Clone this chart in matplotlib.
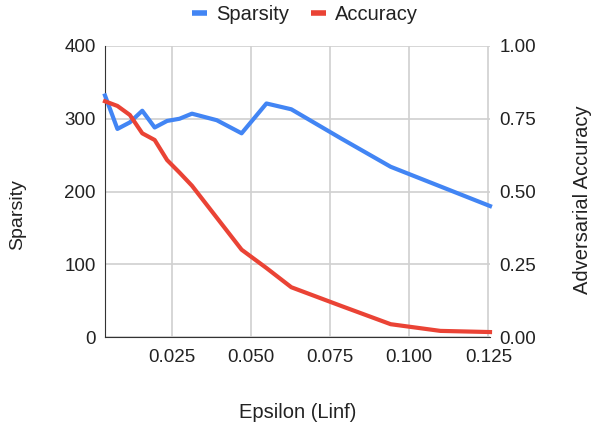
import matplotlib
matplotlib.use("Agg")
import matplotlib.pyplot as plt
from matplotlib.lines import Line2D

plt.rcParams['font.family'] = ['Liberation Sans', 'DejaVu Sans']

eps_steps = [1, 2, 3, 4, 5, 6, 7, 8, 10, 12, 14, 16, 20, 24, 28, 32]
epsilon = [s / 255 for s in eps_steps]
sparsity = [332, 286, 295, 311, 288, 297, 300, 307, 298, 280, 321, 313, 273, 234, 207, 180]
accuracy = [0.81, 0.794, 0.763, 0.70, 0.677, 0.608, 0.565, 0.52, 0.41, 0.30, 0.237, 0.171, 0.107, 0.044, 0.021, 0.017]

x_ticks = [0.025, 0.050, 0.075, 0.100, 0.125]
left_ticks = [0, 100, 200, 300, 400]
right_ticks = [0.0, 0.25, 0.5, 0.75, 1.0]

BLUE = '#4285F4'
RED = '#EA4335'
GRID = '#d0d0d0'
TXT = '#222222'

W, H = 592, 433
fig = plt.figure(figsize=(W / 100, H / 100), dpi=100)
l, r, t, b = 105, 490, 46, 337
ax = fig.add_axes([l / W, 1 - b / H, (r - l) / W, (b - t) / H])
ax2 = ax.twinx()

ax.set_xlim(1 / 255, 32 / 255)
ax.set_ylim(0, 400)
ax2.set_ylim(0, 1.0)

ax.set_xticks(x_ticks)
ax.set_xticklabels([f"{v:.3f}" for v in x_ticks])
ax.set_yticks(left_ticks)
ax.set_yticklabels([str(v) for v in left_ticks])
ax2.set_yticks(right_ticks)
ax2.set_yticklabels([f"{v:.2f}" for v in right_ticks])

ax.grid(True, color=GRID, linewidth=1.2)
ax.set_axisbelow(True)

for a in (ax, ax2):
    for s in a.spines.values():
        s.set_visible(False)
    a.tick_params(length=0, labelsize=13.5, colors=TXT)
ax.spines['left'].set_visible(True)
ax.spines['left'].set_color('#333333')
ax.spines['bottom'].set_visible(True)
ax.spines['bottom'].set_color('#333333')
ax.tick_params(axis='x', pad=9)
ax.tick_params(axis='y', pad=6.5)
ax2.tick_params(axis='y', pad=7)

ax.plot(epsilon, sparsity, color=BLUE, linewidth=3, solid_joinstyle='round', zorder=3, clip_on=False)
ax2.plot(epsilon, accuracy, color=RED, linewidth=3, solid_joinstyle='round', zorder=3, clip_on=False)

fig.text(18 / W, 1 - 215 / H, 'Sparsity', fontsize=14, color=TXT, rotation=90, ha='center', va='center')
fig.text(583 / W, 1 - 200 / H, 'Adversarial Accuracy', fontsize=14.5, color=TXT, rotation=90, ha='center', va='center')
fig.text(298 / W, 1 - 412 / H, 'Epsilon (Linf)', fontsize=14.5, color=TXT, ha='center', va='center')

handles = [Line2D([0], [0], color=BLUE, linewidth=4, solid_capstyle='butt'),
           Line2D([0], [0], color=RED, linewidth=4, solid_capstyle='butt')]
fig.legend(handles, ['Sparsity', 'Accuracy'], loc='center', bbox_to_anchor=(305 / W, 1 - 15 / H),
           ncol=2, frameon=False, fontsize=14.5, handlelength=0.75, handletextpad=0.45,
           columnspacing=1.1, labelcolor=TXT, borderpad=0)

fig.savefig('out.png', dpi=100)
